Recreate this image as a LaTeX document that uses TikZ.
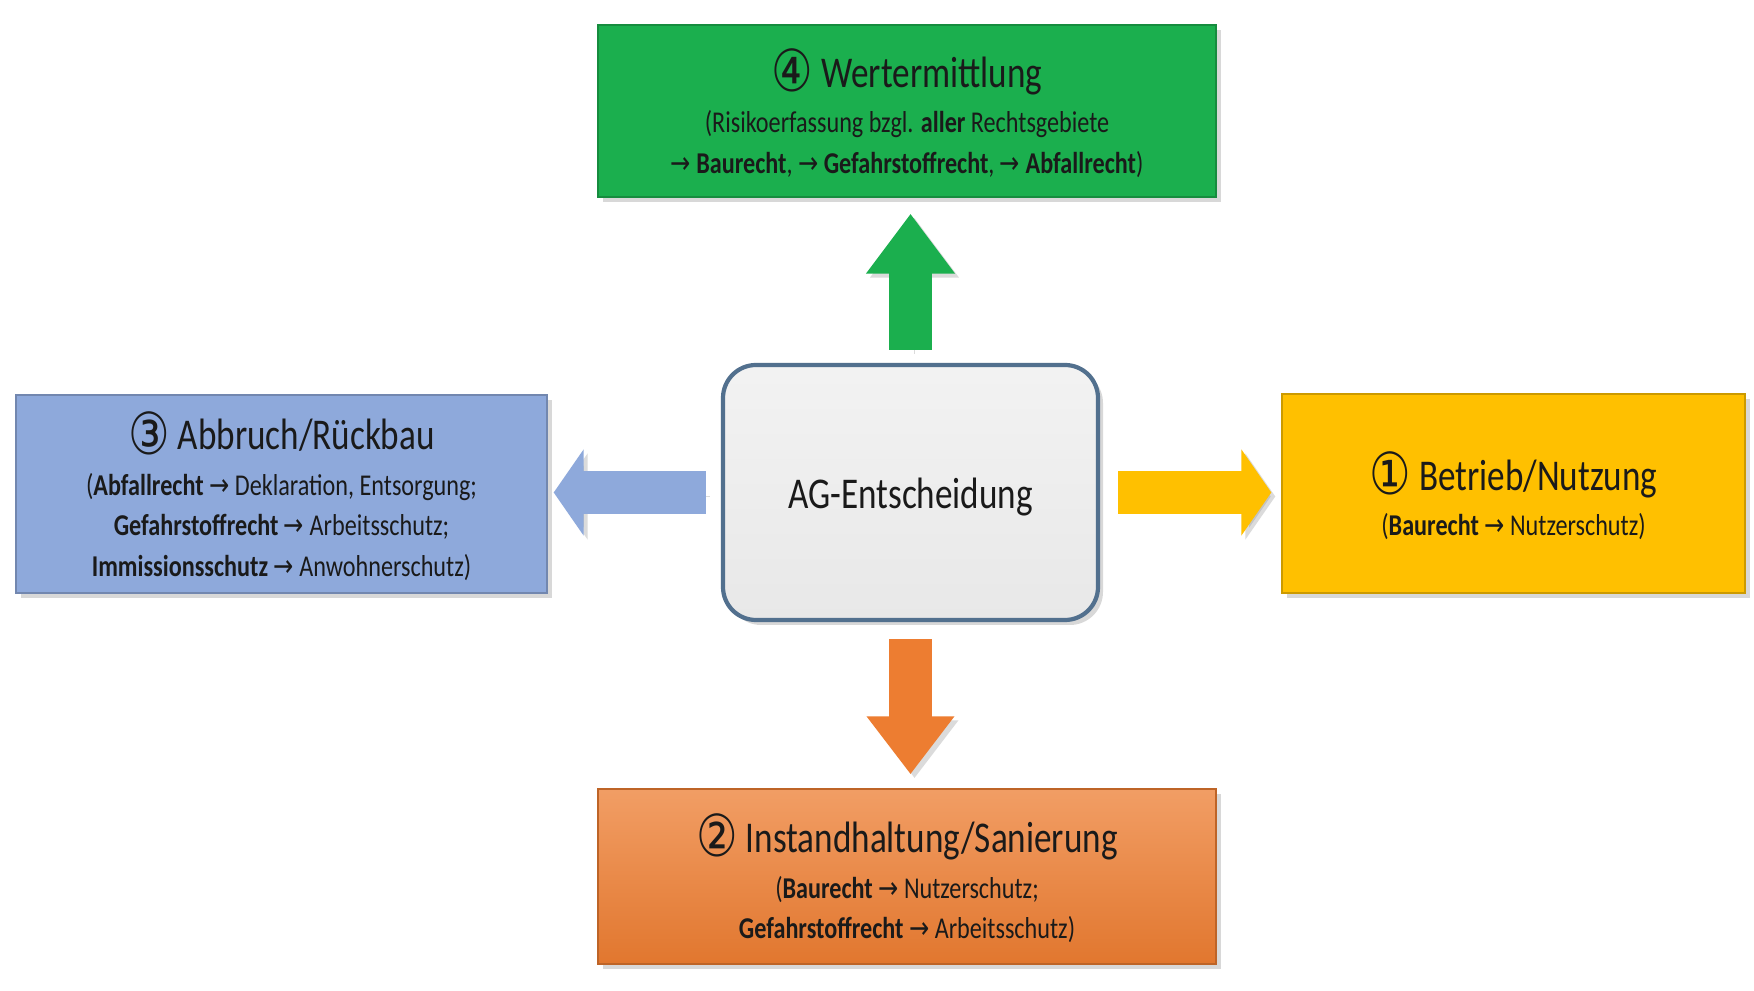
\documentclass[tikz,border=0pt]{standalone}
\usepackage{fontspec}
\setmainfont{Carlito}[FakeStretch=0.8]
\newfontfamily\djvfont{DejaVu Sans}[FakeStretch=0.8]
\usetikzlibrary{arrows.meta,positioning,shadows}
\definecolor{wertgreen}{HTML}{1BAF4E}
\definecolor{abbruchblue}{HTML}{8EA9DB}
\definecolor{betriebyellow}{HTML}{FFC000}
\definecolor{instandorange}{HTML}{ED7D31}
\definecolor{agframe}{HTML}{52708E}
\definecolor{textdark}{HTML}{1A1A1A}
\newcommand{\toarrow}{{\djvfont\char"2192}}
\newcommand{\circnum}[1]{\raisebox{-1.2pt}[\height][\depth]{\djvfont\fontsize{16.5}{15}\selectfont #1}}
\newcommand{\titlesize}{\fontsize{12.5}{15}\selectfont}
\newcommand{\subsize}{\fontsize{8.6}{11.6}\selectfont}

\begin{document}
\begin{tikzpicture}[
    box/.style={rectangle, draw=#1!80!black, line width=0.4pt, fill=#1,
                align=center, inner sep=0pt, text=textdark, font=\subsize,
                drop shadow={opacity=0.3, shadow xshift=0.05cm, shadow yshift=-0.05cm}},
    decision/.style={rectangle, rounded corners=0.33cm, draw=agframe, line width=1.2pt,
                     top color=gray!10, bottom color=gray!18, text=textdark,
                     minimum width=3.75cm, minimum height=2.55cm, font=\titlesize,
                     drop shadow={opacity=0.3, shadow xshift=0.05cm, shadow yshift=-0.05cm}},
    flow/.style={draw=#1, line width=0.43cm,
                 preaction={draw=black!40, opacity=0.35,
                            transform canvas={shift={(0.04cm,-0.04cm)}}}},
]
\useasboundingbox (0,0) rectangle (17.54,-9.91);
\fill[white] (0,0) rectangle (17.54,-9.91);

% Center
\node[decision] (ag) at (9.105,-4.925) {\raisebox{-4.5pt}[0pt][0pt]{AG-Entscheidung}};

% Boxes
\node[box=wertgreen, minimum width=6.18cm, minimum height=1.72cm] (wert) at (9.07,-1.11)
    {{\titlesize\circnum{④} Wertermittlung}\\[1.3pt]
     (Risikoerfassung bzgl. \textbf{aller} Rechtsgebiete\\
     \toarrow{} \textbf{Baurecht}, \toarrow{} \textbf{Gefahrstoffrecht}, \toarrow{} \textbf{Abfallrecht})};
\node[box=abbruchblue, minimum width=5.31cm, minimum height=1.98cm] (abbruch) at (2.815,-4.94)
    {{\titlesize\circnum{③} Abbruch/Rückbau}\\[1.3pt]
     (\textbf{Abfallrecht} \toarrow{} Deklaration, Entsorgung;\\
     \textbf{Gefahrstoffrecht} \toarrow{} Arbeitsschutz;\\
     \textbf{Immissionsschutz} \toarrow{} Anwohnerschutz)};
\node[box=betriebyellow, minimum width=4.63cm, minimum height=1.99cm] (betrieb) at (15.135,-4.935)
    {{\titlesize\circnum{①} Betrieb/Nutzung}\\[1.3pt]
     (\textbf{Baurecht} \toarrow{} Nutzerschutz)};
\node[box=instandorange, top color=instandorange!75!white, bottom color=instandorange!95!black,
      minimum width=6.18cm, minimum height=1.75cm] (instand) at (9.07,-8.765)
    {{\titlesize\circnum{②} Instandhaltung/Sanierung}\\[1.3pt]
     (\textbf{Baurecht} \toarrow{} Nutzerschutz;\\
     \textbf{Gefahrstoffrecht} \toarrow{} Arbeitsschutz)};

% Arrows
\draw[flow=wertgreen, -{Triangle[length=0.6cm, width=0.85cm]}, shorten <=0.13cm, shorten >=0.16cm]
    (ag.north) -- (ag.north |- wert.south);
\draw[flow=instandorange, -{Triangle[length=0.58cm, width=0.84cm]}, shorten <=0.17cm, shorten >=0.14cm]
    (ag.south) -- (ag.south |- instand.north);
\draw[flow=abbruchblue, -{Triangle[length=0.3cm, width=0.85cm]}, shorten <=0.15cm, shorten >=0.06cm]
    (ag.west) -- (ag.west -| abbruch.east);
\draw[flow=betriebyellow, -{Triangle[length=0.3cm, width=0.85cm]}, shorten <=0.18cm, shorten >=0.10cm]
    (ag.east) -- (ag.east -| betrieb.west);
\end{tikzpicture}
\end{document}
